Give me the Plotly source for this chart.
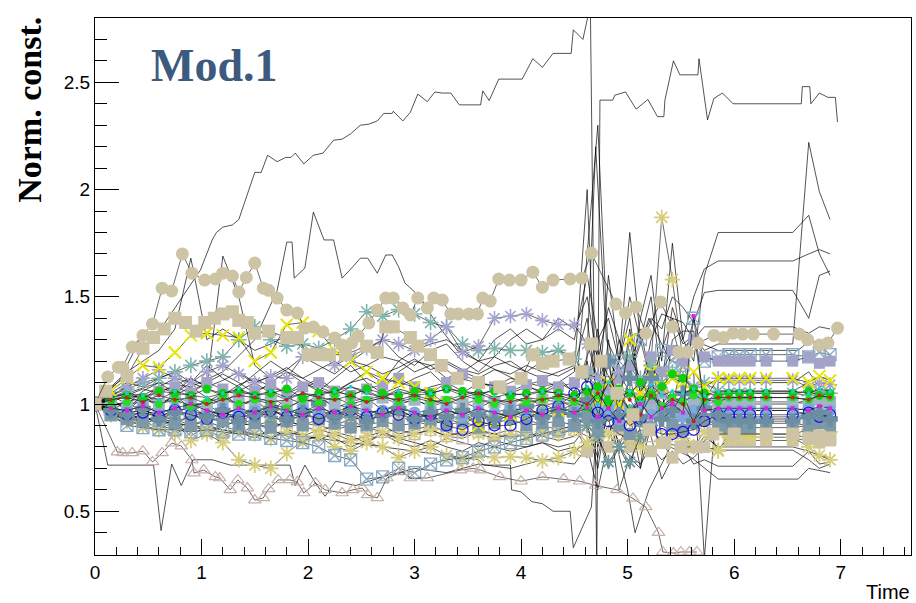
import plotly.graph_objects as go

# ---------------- shared time grid for the band series ----------------
T = [0.0, 0.15, 0.3, 0.45, 0.6, 0.75, 0.9, 1.05, 1.2, 1.35,
     1.5, 1.65, 1.8, 1.95, 2.1, 2.25, 2.4, 2.55, 2.7, 2.85,
     3.0, 3.15, 3.3, 3.45, 3.6, 3.75, 3.9, 4.05, 4.2, 4.35,
     4.5, 4.62, 4.72, 4.82, 4.92, 5.02, 5.12, 5.22, 5.32, 5.42,
     5.52, 5.62, 5.72, 5.85, 5.95, 6.05, 6.15, 6.3, 6.55, 6.7,
     6.8, 6.9]

X_TICKS = [0, 1, 2, 3, 4, 5, 6, 7]
X_TICK_TEXT = ["0", "1", "2", "3", "4", "5", "6", "7"]
Y_TICKS = [0.5, 1.0, 1.5, 2.0, 2.5]
Y_TICK_TEXT = ["0.5", "1", "1.5", "2", "2.5"]

# ---------------- black-only lines on the grid ----------------
BK1 = [1.00,1.05,1.10,1.08,1.12,1.15,1.10,1.18,1.12,1.08,
       1.14,1.20,1.15,1.10,1.06,1.12,1.18,1.10,1.05,1.08,
       1.12,1.15,1.08,1.05,1.10,1.08,1.12,1.10,1.08,1.10,
       1.06,1.20,0.90,1.30,1.00,1.35,1.05,1.20,0.95,1.30,
       1.34,1.34,1.00,1.06,1.06,1.06,1.06,1.06,1.06,1.10,
       1.05,1.07]
BK2 = [1.00,0.95,0.90,0.93,0.88,0.92,0.85,0.90,0.88,0.86,
       0.90,0.84,0.88,0.86,0.83,0.87,0.85,0.82,0.86,0.84,
       0.82,0.80,0.84,0.82,0.80,0.83,0.81,0.80,0.82,0.80,
       0.82,0.90,0.70,1.00,0.80,0.95,0.70,1.10,0.85,0.90,
       0.88,0.78,0.85,0.80,0.80,0.80,0.80,0.80,0.80,0.78,
       0.76,0.75]
BK3 = [1.00,1.08,1.15,1.20,1.25,1.35,1.68,1.30,1.35,1.30,
       1.25,1.28,1.32,1.26,1.22,1.25,1.20,1.18,1.22,1.20,
       1.15,1.18,1.20,1.16,1.14,1.18,1.20,1.15,1.12,1.15,
       1.18,1.40,1.00,1.60,1.20,1.80,1.30,1.50,1.10,1.45,
       1.30,1.20,1.60,1.80,1.80,1.80,1.80,1.80,1.80,1.88,
       1.70,1.60]
BK4 = [1.00,1.04,1.00,1.06,1.10,1.05,1.12,1.08,1.69,1.50,
       1.18,1.12,1.16,1.22,1.18,1.14,1.20,1.25,1.30,1.22,
       1.18,1.25,1.28,1.20,1.15,1.22,1.30,1.35,1.30,1.40,
       1.35,1.50,1.20,1.45,1.30,1.10,1.40,1.60,1.20,1.75,
       1.30,1.50,1.63,1.667,1.667,1.667,1.667,1.667,1.667,1.70,
       1.72,1.70]
BK5 = [1.00,0.98,1.02,1.05,1.00,1.04,1.08,1.03,1.00,1.06,
       1.10,1.05,1.02,1.08,1.12,1.06,1.10,1.15,1.10,1.20,
       1.25,1.28,1.30,1.25,1.20,1.30,1.35,1.28,1.30,1.35,
       1.30,1.60,1.30,1.40,1.20,1.50,1.30,1.40,1.35,1.50,
       1.45,1.38,1.52,1.53,1.53,1.53,1.53,1.53,1.53,1.40,
       1.60,1.62]
BK6 = [1.00,1.02,0.98,1.04,1.08,1.12,1.06,1.10,1.14,1.10,
       1.05,1.10,1.15,1.12,1.08,1.05,1.10,1.12,1.08,1.15,
       1.20,1.18,1.12,1.15,1.20,1.22,1.18,1.15,1.20,1.25,
       1.22,1.10,1.35,1.00,1.20,1.40,1.05,1.30,1.42,1.40,
       1.38,1.30,1.36,1.36,1.36,1.36,1.36,1.36,1.36,1.33,
       1.36,1.35]
BK7 = [1.00,0.96,0.92,0.95,0.90,0.88,0.92,0.86,0.90,0.87,
       0.84,0.88,0.85,0.82,0.86,0.84,0.80,0.83,0.86,0.82,
       0.80,0.83,0.80,0.78,0.82,0.80,0.78,0.80,0.82,0.78,
       0.80,0.75,0.85,0.70,0.80,0.76,0.72,0.80,0.74,0.78,
       0.72,0.75,0.80,0.785,0.785,0.785,0.785,0.785,0.785,0.74,
       0.70,0.72]
BK8 = [1.00,0.94,0.97,0.91,0.93,0.90,0.95,0.92,0.89,0.93,
       0.91,0.88,0.92,0.90,0.87,0.90,0.93,0.88,0.90,0.86,
       0.88,0.90,0.87,0.85,0.88,0.86,0.84,0.86,0.85,0.83,
       0.85,0.90,0.75,1.00,0.80,0.70,0.90,0.85,0.65,0.75,
       0.80,0.72,0.74,0.71,0.71,0.71,0.71,0.71,0.71,0.78,
       0.72,0.73]
BK9 = [1.00,1.02,0.97,1.03,0.99,1.04,0.98,1.01,1.05,0.99,
       1.02,0.96,1.03,1.00,1.04,0.98,1.01,1.03,0.97,1.00,
       1.02,0.99,1.03,1.01,0.98,1.02,1.00,1.03,0.99,1.01,
       1.00,0.90,1.10,0.95,1.05,0.92,1.08,0.96,1.00,1.06,
       0.94,1.02,0.98,1.00,1.00,1.00,1.00,1.00,1.00,1.02,
       0.99,1.00]
BK10 = [1.00,1.03,1.06,1.02,1.08,1.05,1.10,1.07,1.04,1.09,
        1.12,1.08,1.05,1.10,1.07,1.04,1.08,1.06,1.03,1.07,
        1.05,1.08,1.10,1.06,1.04,1.07,1.05,1.08,1.06,1.10,
        1.15,2.00,0.80,0.95,0.60,0.75,0.70,0.90,1.10,1.00,
        1.20,1.15,0.28,1.10,1.10,1.10,1.10,1.10,1.10,1.15,
        1.08,1.10]
BK11 = [1.00,0.97,1.01,0.96,0.99,0.94,0.97,1.00,0.95,0.98,
        0.93,0.97,0.95,0.99,0.94,0.96,0.92,0.95,0.98,0.94,
        0.96,0.93,0.97,0.95,0.92,0.96,0.94,0.97,0.93,0.95,
        0.96,1.70,2.30,1.20,0.90,1.00,0.80,0.95,1.05,0.85,
        0.92,0.96,0.94,0.97,0.97,0.97,0.97,0.97,0.97,0.95,
        0.98,0.96]
BK12 = [1.00,1.01,1.04,1.07,1.05,1.09,1.12,1.08,1.11,1.15,
        1.10,1.13,1.17,1.12,1.16,1.20,1.15,1.18,1.14,1.17,
        1.21,1.16,1.19,1.15,1.12,1.16,1.14,1.18,1.15,1.13,
        1.17,1.10,1.25,1.05,1.30,1.15,1.35,1.10,1.25,1.40,
        1.28,1.32,1.25,1.28,1.28,1.28,1.28,1.28,1.28,2.22,
        1.99,1.86]

# ---------------- black lines with their own time points ----------------
TOP_T = [0, 0.09, 0.23, 0.42, 0.61, 0.80, 0.99, 1.10, 1.14, 1.20,
         1.29, 1.35, 1.43, 1.50, 1.56, 1.62, 1.71, 1.79, 1.84, 1.88,
         1.96, 2.05, 2.14, 2.24, 2.32, 2.40, 2.49, 2.57, 2.65, 2.71,
         2.79, 2.80, 2.89, 2.96, 3.03, 3.12, 3.19, 3.26, 3.34, 3.42,
         3.62, 3.64, 3.70, 3.79, 4.01, 4.11, 4.20, 4.30, 4.47, 4.49,
         4.58, 4.60, 4.65, 4.71, 4.74, 4.86, 4.88, 4.98, 5.08, 5.19,
         5.28, 5.34, 5.35, 5.43, 5.49, 5.66, 5.67, 5.75, 5.81, 5.89,
         5.99, 6.63, 6.64, 6.71, 6.72, 6.80, 6.88, 6.95, 6.97]
TOP_V = [1.0, 1.04, 1.11, 1.30, 1.345, 1.485, 1.625, 1.765, 1.80, 1.825,
         1.835, 1.86, 1.98, 2.08, 2.08, 2.16, 2.13, 2.15, 2.15, 2.17,
         2.12, 2.16, 2.17, 2.23, 2.235, 2.26, 2.30, 2.305, 2.32, 2.355,
         2.355, 2.365, 2.32, 2.36, 2.445, 2.41, 2.455, 2.45, 2.45, 2.395,
         2.395, 2.46, 2.415, 2.515, 2.515, 2.61, 2.57, 2.635, 2.635, 2.745,
         2.70, 2.745, 2.86, 0.25, 2.417, 2.417, 2.44, 2.455, 2.375, 2.42,
         2.34, 2.34, 2.417, 2.60, 2.535, 2.535, 2.61, 2.325, 2.425, 2.45,
         2.40, 2.40, 2.48, 2.48, 2.40, 2.45, 2.43, 2.43, 2.315]

PEAK_T = [0, 0.3, 0.6, 0.9, 1.2, 1.5, 1.71, 1.80, 1.85, 1.87,
          1.97, 2.05, 2.15, 2.24, 2.32, 2.42, 2.49, 2.56, 2.65, 2.73,
          2.79, 2.85, 2.91, 3.05, 3.2, 3.4, 3.6, 3.8, 4.0, 4.2,
          4.4, 4.6, 4.7, 4.8, 5.0, 5.2, 5.4, 5.6, 5.85, 6.6,
          6.72, 6.8, 6.9]
PEAK_V = [1.0, 1.05, 1.1, 1.08, 1.15, 1.3, 1.53, 1.755, 1.755, 1.587,
          1.634, 1.895, 1.765, 1.765, 1.587, 1.64, 1.68, 1.68, 1.61, 1.695,
          1.695, 1.64, 1.564, 1.5, 1.38, 1.25, 1.2, 1.15, 1.1, 1.05,
          1.1, 1.0, 2.2, 1.3, 1.1, 1.4, 1.2, 1.3, 1.25, 1.25,
          1.3, 1.28, 1.3]

LOW1_T = [0, 0.12, 0.3, 0.55, 0.62, 0.72, 0.81, 0.92, 1.1, 1.27,
          1.5, 1.7, 1.83, 1.88, 1.97, 2.07, 2.16, 2.26, 2.45, 2.7,
          3.0, 3.3, 3.6, 3.9, 4.2, 4.5, 4.62, 4.72, 4.85, 5.0,
          5.07, 5.2, 5.4, 5.6, 5.85, 6.6, 6.7, 6.9]
LOW1_V = [1.0, 0.715, 0.715, 0.715, 0.41, 0.72, 0.62, 0.74, 0.74, 0.715,
          0.715, 0.715, 0.715, 0.62, 0.715, 0.63, 0.57, 0.64, 0.62, 0.66,
          0.70, 0.68, 0.72, 0.70, 0.74, 0.72, 0.80, 0.60, 0.90, 0.60,
          0.40, 0.60, 0.80, 0.75, 0.65, 0.65, 0.70, 0.68]

LOW2_T = [0, 0.3, 0.6, 0.9, 1.2, 1.5, 1.8, 2.1, 2.4, 2.7,
          3.0, 3.3, 3.6, 3.65, 3.9, 3.91, 4.0, 4.1, 4.2, 4.3,
          4.46, 4.49, 4.66, 4.72, 4.8, 5.0, 5.2, 5.4, 5.6, 5.85,
          6.6, 6.7, 6.9]
LOW2_V = [1.0, 0.95, 0.92, 0.9, 0.88, 0.86, 0.87, 0.84, 0.82, 0.8,
          0.78, 0.76, 0.74, 0.715, 0.715, 0.6, 0.59, 0.545, 0.535, 0.5,
          0.5, 0.33, 0.52, 1.0, 1.1, 0.95, 1.05, 0.98, 0.9, 0.93,
          0.93, 0.96, 0.94]

# ---------------- marker series on the grid ----------------
GREEN = [1.00,1.02,1.04,1.03,1.06,1.05,1.04,1.07,1.05,1.06,
         1.04,1.05,1.07,1.03,1.05,1.06,1.04,1.07,1.05,1.04,
         1.06,1.05,1.07,1.06,1.05,1.06,1.04,1.05,1.06,1.05,
         1.04,1.06,1.08,1.02,1.07,1.05,1.10,1.04,1.08,1.14,
         1.12,1.07,1.05,1.04,1.05,1.05,1.05,1.05,1.05,1.06,
         1.04,1.05]
GREEN2 = [1.00,0.99,1.01,1.03,1.00,1.02,0.99,1.01,1.03,1.00,
          1.02,1.00,0.98,1.02,1.01,1.03,1.00,1.02,1.04,1.01,
          1.03,1.01,1.02,1.04,1.02,1.00,1.03,1.01,1.02,1.03,
          1.01,0.98,1.04,1.00,1.06,0.97,1.02,1.05,0.99,1.03,
          1.01,1.04,1.02,1.01,1.03,1.03,1.03,1.03,1.03,1.02,
          1.04,1.03]
LBLUE = [1.00,0.98,0.97,0.99,0.96,0.98,0.97,0.95,0.98,0.96,
         0.97,0.99,0.96,0.98,0.97,0.95,0.98,0.96,0.97,0.99,
         0.96,0.97,0.98,0.94,0.97,0.96,0.98,0.97,0.96,0.98,
         0.97,0.99,0.95,0.98,0.93,0.97,1.00,0.95,0.98,0.96,
         0.94,0.97,0.99,0.96,0.97,0.97,0.97,0.97,0.97,0.98,
         0.96,0.97]
SLATE = [1.00,0.97,0.95,0.98,0.93,0.96,0.99,0.94,0.97,0.92,
         0.95,0.98,0.93,0.96,1.00,0.94,0.97,0.92,0.95,0.98,
         0.93,0.96,0.94,0.97,0.95,0.93,0.96,0.99,0.94,0.97,
         0.95,1.02,0.92,1.20,0.95,1.12,0.94,1.12,0.93,0.97,
         1.05,0.92,0.98,0.95,0.92,0.92,0.92,0.92,0.92,0.94,
         0.96,0.93]
STEEL = [1.00,1.01,0.99,1.02,1.00,1.03,1.01,0.99,1.02,1.00,
         1.01,1.03,0.99,1.01,1.02,1.00,0.98,1.01,1.03,1.00,
         1.02,0.99,1.01,1.00,1.02,1.01,0.99,1.00,1.02,1.01,
         0.99,1.03,0.98,1.04,1.00,0.97,1.02,0.99,1.05,1.00,
         0.98,1.02,1.00,1.01,1.01,1.01,1.01,1.01,1.01,1.00,
         1.02,1.01]
DSTEEL = [1.00,0.95,0.93,0.92,0.94,0.91,0.90,0.93,0.92,0.90,
          0.91,0.89,0.92,0.90,0.93,0.91,0.89,0.90,0.92,0.90,
          0.91,0.93,0.90,0.92,0.89,0.91,0.93,0.90,0.91,0.92,
          0.90,0.94,0.88,0.95,0.90,0.86,0.92,0.89,0.95,0.90,
          0.88,0.91,0.93,0.90,0.89,0.89,0.89,0.89,0.89,0.90,
          0.91,0.90]
LAVAST = [1.00,1.04,1.08,1.12,1.16,1.12,1.10,1.15,1.18,1.14,
          1.10,1.13,1.12,1.22,1.24,1.18,1.22,1.26,1.30,1.28,
          1.25,1.30,1.36,1.24,1.27,1.40,1.41,1.42,1.39,1.37,
          1.37,1.28,1.12,1.08,1.15,1.05,1.10,1.02,1.06,1.00,
          1.04,1.08,1.02,1.12,1.11,1.11,1.11,1.11,1.11,1.08,
          1.10,1.09]
LAVSQ = [1.00,1.03,1.05,1.02,1.06,1.08,1.05,1.10,1.07,1.04,
         1.06,1.09,1.05,1.08,1.10,1.06,1.04,1.07,1.09,1.12,
         1.08,1.05,1.10,1.14,1.10,1.08,1.06,1.09,1.11,1.08,
         1.10,1.15,1.05,1.20,1.12,1.18,1.10,1.22,1.15,1.25,
         1.20,1.30,1.22,1.20,1.20,1.20,1.20,1.20,1.20,1.22,
         1.19,1.20]
TEALAST = [1.00,1.04,1.07,1.10,1.12,1.15,1.18,1.20,1.22,1.30,
           1.36,1.30,1.27,1.28,1.26,1.30,1.35,1.43,1.41,1.44,
           1.42,1.38,1.36,1.28,1.25,1.26,1.25,1.25,1.24,1.25,
           1.21,1.14,1.12,1.20,1.15,1.22,1.12,1.18,1.10,1.15,
           1.12,1.08,1.10,1.06,1.05,1.05,1.05,1.05,1.05,1.04,
           1.06,1.05]
YELX = [1.00,1.06,1.12,1.18,1.17,1.24,1.32,1.33,1.32,1.31,
        1.20,1.24,1.37,1.38,1.34,1.25,1.20,1.15,1.12,1.10,
        1.08,1.05,1.00,0.95,0.90,0.92,0.95,0.98,1.00,0.97,
        1.00,1.05,1.02,1.10,1.00,1.30,1.05,1.15,1.08,1.12,
        1.10,1.15,1.08,1.12,1.12,1.12,1.12,1.12,1.12,1.10,
        1.13,1.11]
KHAKI1 = [1.00,0.97,0.93,0.95,0.90,0.92,0.83,0.86,0.82,0.74,
          0.715,0.70,0.77,0.83,0.85,0.80,0.78,0.82,0.80,0.75,
          0.78,0.80,0.76,0.74,0.76,0.75,0.755,0.75,0.735,0.75,
          0.78,0.82,0.90,0.86,0.80,0.84,0.80,0.88,0.83,0.86,
          0.84,0.80,0.87,0.785,0.845,0.845,0.845,0.845,0.845,0.80,
          0.76,0.74]
KHAKI2 = [1.00,0.95,0.92,0.90,0.88,0.86,0.90,0.87,0.85,0.88,
          0.86,0.84,0.87,0.85,0.88,0.86,0.83,0.85,0.87,0.84,
          0.86,0.88,0.85,0.87,0.86,0.84,0.86,0.85,0.87,0.86,
          0.88,0.90,0.85,0.95,1.00,0.92,1.05,1.20,1.87,1.58,
          1.20,1.00,0.92,0.78,0.86,0.86,0.86,0.86,0.86,0.88,
          0.85,0.87]
BLUEO = [1.00,0.97,0.95,0.96,0.94,0.97,0.95,0.93,0.96,0.94,
         0.95,0.97,0.94,0.96,0.93,0.95,0.97,0.94,0.96,0.95,
         0.93,0.95,0.90,0.88,0.92,0.90,0.90,0.93,0.97,0.99,
         1.05,1.08,0.96,0.92,0.95,0.90,0.93,0.88,0.86,0.86,
         0.87,0.88,0.92,0.95,0.95,0.95,0.95,0.95,0.95,0.96,
         0.94,0.95]
SQX = [1.00,0.95,0.90,0.89,0.88,0.88,0.87,0.88,0.87,0.86,
       0.86,0.84,0.83,0.82,0.80,0.76,0.74,0.65,0.66,0.70,
       0.68,0.72,0.74,0.75,0.78,0.80,0.82,0.84,0.86,0.88,
       0.90,1.00,1.05,1.10,1.20,1.15,1.30,1.10,1.25,1.20,
       1.18,1.40,1.20,1.22,1.23,1.23,1.23,1.23,1.23,1.22,
       1.24,1.23]
BROWNSQ = [1.00,0.96,0.94,0.92,0.95,0.93,0.90,0.92,0.94,0.91,
           0.90,0.92,0.89,0.91,0.90,0.88,0.90,0.89,0.87,0.88,
           0.86,0.88,0.85,0.84,0.87,0.86,0.88,0.86,0.85,0.87,
           0.88,0.85,0.82,0.90,0.86,0.84,0.88,0.85,0.90,0.87,
           0.90,0.88,0.90,0.91,0.91,0.91,0.91,0.91,0.91,0.90,
           0.92,0.91]
TEALG = [1.00,0.96,0.93,0.97,0.95,0.92,0.94,0.96,0.93,0.95,
         0.97,0.94,0.92,0.95,0.93,0.96,0.94,0.92,0.95,0.97,
         0.94,0.92,0.95,0.93,0.96,0.94,0.97,0.95,0.93,0.96,
         0.94,0.90,0.85,0.73,0.80,0.73,0.85,0.90,0.95,0.92,
         0.94,0.96,0.93,0.94,0.94,0.94,0.94,0.94,0.94,0.95,
         0.93,0.94]
TANLOW = [1.00,0.98,0.96,0.97,0.95,0.96,0.94,0.97,0.95,0.93,
          0.96,0.94,0.92,0.95,0.97,0.94,0.96,0.93,0.95,0.94,
          0.92,0.90,0.93,0.91,0.94,0.92,0.95,0.93,0.90,0.88,
          0.90,0.78,0.85,0.80,0.88,0.80,0.84,0.78,0.82,0.75,
          0.80,0.80,0.80,0.88,0.83,0.83,0.83,0.83,0.83,0.84,
          0.82,0.83]
RED = [1.00,1.02,1.03,1.01,1.04,1.02,1.03,1.00,1.02,1.04,
       1.03,1.01,1.02,1.05,1.03,1.02,1.04,1.01,1.03,1.02,
       1.04,1.02,1.00,1.03,1.05,1.02,1.01,1.03,1.02,1.04,
       1.02,1.00,1.05,0.98,1.06,1.02,0.95,1.04,0.98,1.02,
       1.00,0.92,1.02,1.03,1.03,1.03,1.03,1.03,1.03,1.02,
       1.04,1.03]
MAG = [1.00,0.98,0.97,0.99,0.96,0.98,1.00,0.97,0.95,0.98,
       0.96,0.99,0.97,0.95,0.98,0.96,0.99,0.97,0.95,0.98,
       0.96,0.94,0.97,0.95,0.98,0.96,0.94,0.97,0.95,0.98,
       0.96,0.98,0.94,0.98,0.92,0.97,1.00,0.94,0.98,1.00,
       0.96,1.41,0.97,0.98,0.98,0.98,0.98,0.98,0.98,0.97,
       0.99,0.98]
CYAN = [1.00,1.03,1.05,1.04,1.02,1.06,1.04,1.03,1.05,1.07,
        1.04,1.06,1.03,1.05,1.04,1.06,1.08,1.05,1.03,1.06,
        1.04,1.05,1.07,1.04,1.06,1.03,1.05,1.04,1.06,1.05,
        1.03,1.08,1.00,1.10,1.03,1.06,1.01,1.09,1.04,1.06,
        1.05,1.07,1.04,1.06,1.06,1.06,1.06,1.06,1.06,1.05,
        1.07,1.06]

# ---------------- marker series with their own time points ----------------
CIRC_T = [0, 0.12, 0.22, 0.26, 0.35, 0.45, 0.54, 0.63, 0.72, 0.82,
          0.91, 1.03, 1.13, 1.20, 1.29, 1.35, 1.42, 1.50, 1.58, 1.63,
          1.71, 1.80, 1.90, 1.97, 2.05, 2.14, 2.25, 2.32, 2.41, 2.47,
          2.57, 2.65, 2.73, 2.80, 2.89, 2.96, 3.03, 3.12, 3.18, 3.26,
          3.34, 3.41, 3.51, 3.59, 3.64, 3.71, 3.79, 3.89, 4.00, 4.11,
          4.20, 4.30, 4.46, 4.57, 4.66, 4.89, 4.98, 5.08, 5.17, 5.31,
          5.42, 5.48, 5.56, 5.66, 5.81, 5.90, 5.99, 6.08, 6.18, 6.37,
          6.61, 6.69, 6.80, 6.88, 6.97]
CIRC_V = [1.0, 1.126, 1.172, 1.172, 1.266, 1.32, 1.373, 1.54, 1.527, 1.70,
          1.61, 1.578, 1.583, 1.61, 1.597, 1.522, 1.59, 1.657, 1.54, 1.53,
          1.494, 1.438, 1.424, 1.354, 1.359, 1.336, 1.308, 1.275, 1.284, 1.317,
          1.378, 1.438, 1.494, 1.494, 1.448, 1.415, 1.494, 1.448, 1.494, 1.485,
          1.42, 1.42, 1.42, 1.42, 1.494, 1.48, 1.583, 1.578, 1.578, 1.615,
          1.545, 1.578, 1.583, 1.587, 1.704, 1.466, 1.424, 1.452, 1.33, 1.476,
          1.36, 1.242, 1.242, 1.284, 1.32, 1.31, 1.33, 1.326, 1.326, 1.326,
          1.326, 1.30, 1.275, 1.284, 1.354]

SQ_T = [0, 0.1, 0.3, 0.45, 0.55, 0.65, 0.75, 0.85, 0.95, 1.03,
        1.12, 1.2, 1.29, 1.35, 1.43, 1.5, 1.63, 1.8, 1.9, 2.0,
        2.1, 2.2, 2.35, 2.55, 2.65, 2.73, 2.8, 2.96, 3.03, 3.15,
        3.25, 3.4, 3.6, 3.8, 4.0, 4.11, 4.2, 4.3, 4.45, 4.57,
        4.66, 4.75, 4.9, 5.05, 5.2, 5.35, 5.5, 5.65, 5.8, 6.0,
        6.3, 6.55, 6.7, 6.8, 6.9]
SQ_V = [1.0, 1.06, 1.13, 1.26, 1.31, 1.35, 1.40, 1.38, 1.34, 1.38,
        1.40, 1.42, 1.43, 1.39, 1.38, 1.33, 1.34, 1.31, 1.31, 1.23,
        1.23, 1.23, 1.23, 1.27, 1.24, 1.36, 1.36, 1.31, 1.27, 1.23,
        1.18, 1.12, 1.10, 1.08, 1.12, 1.23, 1.19, 1.20, 1.21, 1.15,
        1.28, 1.20, 1.05, 0.95, 0.88, 0.82, 0.80, 0.80, 0.86, 0.86,
        0.86, 0.86, 0.84, 0.85, 0.84]

TRI_T = [0, 0.21, 0.26, 0.35, 0.45, 0.54, 0.63, 0.72, 0.81, 0.91,
         0.93, 1.02, 1.13, 1.17, 1.27, 1.34, 1.43, 1.50, 1.58, 1.63,
         1.72, 1.83, 1.90, 1.96, 2.07, 2.16, 2.32, 2.42, 2.51, 2.56,
         2.65, 2.74, 2.89, 2.96, 3.12, 3.43, 3.55, 3.62, 3.8, 4.0,
         4.2, 4.4, 4.55, 4.7, 4.9, 5.05, 5.17, 5.29, 5.33, 5.43,
         5.5, 5.58, 5.65]
TRI_V = [1.0, 0.776, 0.772, 0.772, 0.78, 0.73, 0.772, 0.818, 0.804, 0.739,
         0.678, 0.692, 0.66, 0.655, 0.60, 0.646, 0.608, 0.552, 0.562, 0.604,
         0.646, 0.646, 0.636, 0.585, 0.632, 0.60, 0.585, 0.60, 0.608, 0.576,
         0.562, 0.655, 0.683, 0.655, 0.655, 0.692, 0.70, 0.692, 0.66, 0.64,
         0.66, 0.65, 0.64, 0.62, 0.60, 0.56, 0.52, 0.40, 0.31, 0.305,
         0.31, 0.31, 0.31]

LINE_C = "rgba(0,0,0,0.85)"
BEIGE = "#ccc4a4"

fig = go.Figure()


def black(xs, ys, w=0.8):
    fig.add_trace(go.Scatter(x=list(xs)[:len(ys)], y=ys, mode="lines",
                             line=dict(color=LINE_C, width=w),
                             showlegend=False, hoverinfo="skip"))


def mark(xs, ys, color, symbol, size, lw=0, lc=LINE_C):
    m = dict(symbol=symbol, size=size, color=color)
    m["line"] = dict(width=lw, color=color)
    fig.add_trace(go.Scatter(x=list(xs)[:len(ys)], y=ys, mode="lines+markers",
                             line=dict(color=lc, width=0.7), marker=m,
                             showlegend=False, hoverinfo="skip"))


for s in [BK1, BK2, BK3, BK4, BK5, BK6, BK7, BK8, BK9, BK10, BK11, BK12]:
    black(T, s)
black(TOP_T, TOP_V)
black(PEAK_T, PEAK_V)
black(LOW1_T, LOW1_V)
black(LOW2_T, LOW2_V)

mark(T, TANLOW, BEIGE, "square", 12)
mark(T, BROWNSQ, "#c9b2aa", "square-open", 11, 1.2)
mark(T, KHAKI2, "#d6ce7c", "asterisk-open", 13, 1.8)
mark(T, KHAKI1, "#d6ce7c", "asterisk-open", 13, 1.8)
mark(T, SQX, "#8aabc6", "square-x-open", 12, 1.3)
mark(T, TEALG, "#6e99a0", "asterisk-open", 12, 1.8)
mark(T, DSTEEL, "#7d98a8", "square", 12)
mark(T, LAVSQ, "#a3a3c9", "square", 11)
mark(T, STEEL, "#a2b6c4", "square", 12)
mark(T, TEALAST, "#7fb5ad", "asterisk-open", 13, 1.6)
mark(T, LAVAST, "#a4a4d0", "asterisk-open", 12, 1.6)
mark(T, YELX, "#e6e600", "x-thin-open", 12, 2)
mark(T, LBLUE, "#80a8dc", "circle", 12)
mark(T, BLUEO, "#1010ee", "circle-open", 11, 1.2)
mark(T, SLATE, "#6b8ea3", "cross", 13)
mark(T, GREEN2, "#22dd22", "circle", 8)
mark(T, GREEN, "#11cc11", "circle", 9)
mark(T, CYAN, "#22cccc", "circle", 4)
mark(T, RED, "#cc2020", "circle", 4)
mark(T, MAG, "#dd22dd", "square", 4)
mark(TRI_T, TRI_V, "#c7b1a8", "triangle-up-open", 11, 1.2)
mark(SQ_T, SQ_V, BEIGE, "square", 13)
mark(CIRC_T, CIRC_V, BEIGE, "circle", 13)

axis_font = dict(family="Liberation Sans, Arial, sans-serif", size=19, color="black")

fig.update_layout(
    width=916, height=603,
    margin=dict(l=95, r=5, t=18, b=48),
    paper_bgcolor="white", plot_bgcolor="white",
    showlegend=False,
    xaxis=dict(range=[0, 7.66], showgrid=False, zeroline=False, automargin=False,
               showline=True, linecolor="black", linewidth=1, mirror=True,
               ticks="inside", ticklen=16, tickcolor="black", tickwidth=1,
               tickvals=X_TICKS, ticktext=X_TICK_TEXT, tickfont=axis_font,
               minor=dict(dtick=0.2, tick0=0, ticks="inside", ticklen=8,
                          tickcolor="black", showgrid=False)),
    yaxis=dict(range=[0.296, 2.8], showgrid=False, zeroline=False, automargin=False,
               showline=True, linecolor="black", linewidth=1, mirror=True,
               ticks="inside", ticklen=24, tickcolor="black", tickwidth=1,
               tickvals=Y_TICKS, ticktext=Y_TICK_TEXT, tickfont=axis_font,
               minor=dict(dtick=0.1, tick0=0, ticks="inside", ticklen=12,
                          tickcolor="black", showgrid=False)),
    annotations=[
        dict(text="<b>Norm. const.</b>", textangle=-90,
             xref="paper", yref="paper", x=-0.0797, y=0.829,
             xanchor="center", yanchor="middle", showarrow=False,
             font=dict(family="Liberation Serif, Times New Roman, serif", size=34, color="black")),
        dict(text="<b>Mod.1</b>", xref="paper", yref="paper",
             x=0.066, y=0.911, xanchor="left", yanchor="middle", showarrow=False,
             font=dict(family="Liberation Serif, Times New Roman, serif", size=46, color="#3c5a7e")),
        dict(text="Time", xref="paper", yref="paper",
             x=1.001, y=-0.069, xanchor="right", yanchor="middle", showarrow=False,
             font=dict(family="Liberation Sans, Arial, sans-serif", size=20, color="black")),
    ],
)

fig.write_html("out.html", config={"displayModeBar": False},
               post_script="document.body.style.margin='0px';document.body.style.overflow='hidden';")
